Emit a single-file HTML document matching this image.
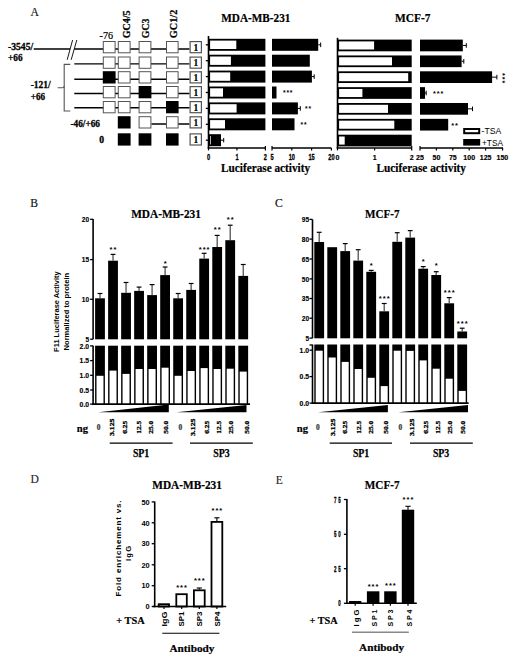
<!DOCTYPE html>
<html><head><meta charset="utf-8"><style>
html,body{margin:0;padding:0;background:#fff;}
body{width:517px;height:663px;overflow:hidden;font-family:"Liberation Serif", serif;}
svg{display:block;}
</style></head><body>
<svg width="517" height="663" viewBox="0 0 517 663">
<rect x="0" y="0" width="517" height="663" fill="#fff"/>
<text x="30.40" y="15.90" font-size="11.6" font-family="'Liberation Serif', serif" font-weight="normal" text-anchor="start" fill="#111" stroke="#111" stroke-width="0.15" >A</text>
<text x="30.20" y="206.60" font-size="11.6" font-family="'Liberation Serif', serif" font-weight="normal" text-anchor="start" fill="#111" stroke="#111" stroke-width="0.15" >B</text>
<text x="275.00" y="207.00" font-size="11.6" font-family="'Liberation Serif', serif" font-weight="normal" text-anchor="start" fill="#111" stroke="#111" stroke-width="0.15" >C</text>
<text x="30.40" y="483.20" font-size="11.6" font-family="'Liberation Serif', serif" font-weight="normal" text-anchor="start" fill="#222" stroke="#222" stroke-width="0.1" >D</text>
<text x="275.70" y="483.90" font-size="11.6" font-family="'Liberation Serif', serif" font-weight="normal" text-anchor="start" fill="#222" stroke="#222" stroke-width="0.1" >E</text>
<line x1="33.70" y1="49.00" x2="70.10" y2="49.00" stroke="#000" stroke-width="1.4" />
<line x1="74.30" y1="49.00" x2="189.50" y2="49.00" stroke="#000" stroke-width="1.4" />
<line x1="74.30" y1="63.90" x2="189.50" y2="63.90" stroke="#000" stroke-width="1.4" />
<line x1="74.30" y1="79.20" x2="189.50" y2="79.20" stroke="#000" stroke-width="1.4" />
<line x1="74.30" y1="93.50" x2="189.50" y2="93.50" stroke="#000" stroke-width="1.4" />
<line x1="74.30" y1="107.80" x2="189.50" y2="107.80" stroke="#000" stroke-width="1.4" />
<line x1="151.40" y1="124.00" x2="189.50" y2="124.00" stroke="#000" stroke-width="1.4" />
<line x1="72.60" y1="40.00" x2="67.20" y2="59.80" stroke="#000" stroke-width="0.9" />
<line x1="76.80" y1="40.00" x2="71.20" y2="59.80" stroke="#000" stroke-width="0.9" />
<path d="M70.3 64.4 L64.2 64.4 L64.2 111 L70.3 111" fill="none" stroke="#555" stroke-width="1.1"/>
<path d="M57.7 87.8 L62.5 87.8 Q64.2 87.8 64.2 86.0" fill="none" stroke="#555" stroke-width="1.1"/>
<rect x="103.30" y="41.50" width="11.80" height="11.30" fill="#fff" stroke="#555" stroke-width="1"/>
<rect x="118.30" y="41.50" width="11.80" height="11.30" fill="#fff" stroke="#555" stroke-width="1"/>
<rect x="139.10" y="41.50" width="11.80" height="11.30" fill="#fff" stroke="#555" stroke-width="1"/>
<rect x="166.50" y="41.50" width="11.60" height="11.30" fill="#fff" stroke="#555" stroke-width="1"/>
<rect x="190.10" y="41.60" width="11.30" height="11.10" fill="#fff" stroke="#555" stroke-width="1.2"/>
<text x="195.75" y="50.60" font-size="9.5" font-family="'Liberation Serif', serif" font-weight="bold" text-anchor="middle" fill="#000" stroke="#000" stroke-width="0.2" >1</text>
<rect x="103.30" y="57.00" width="11.80" height="11.30" fill="#fff" stroke="#555" stroke-width="1"/>
<rect x="118.30" y="57.00" width="11.80" height="11.30" fill="#fff" stroke="#555" stroke-width="1"/>
<rect x="139.10" y="57.00" width="11.80" height="11.30" fill="#fff" stroke="#555" stroke-width="1"/>
<rect x="166.50" y="57.00" width="11.60" height="11.30" fill="#fff" stroke="#555" stroke-width="1"/>
<rect x="190.10" y="57.10" width="11.30" height="11.10" fill="#fff" stroke="#555" stroke-width="1.2"/>
<text x="195.75" y="66.10" font-size="9.5" font-family="'Liberation Serif', serif" font-weight="bold" text-anchor="middle" fill="#000" stroke="#000" stroke-width="0.2" >1</text>
<rect x="102.80" y="71.20" width="12.80" height="12.30" fill="#000"/>
<rect x="118.30" y="71.70" width="11.80" height="11.30" fill="#fff" stroke="#555" stroke-width="1"/>
<rect x="139.10" y="71.70" width="11.80" height="11.30" fill="#fff" stroke="#555" stroke-width="1"/>
<rect x="166.50" y="71.70" width="11.60" height="11.30" fill="#fff" stroke="#555" stroke-width="1"/>
<rect x="190.10" y="71.80" width="11.30" height="11.10" fill="#fff" stroke="#555" stroke-width="1.2"/>
<text x="195.75" y="80.80" font-size="9.5" font-family="'Liberation Serif', serif" font-weight="bold" text-anchor="middle" fill="#000" stroke="#000" stroke-width="0.2" >1</text>
<rect x="103.30" y="86.50" width="11.80" height="11.30" fill="#fff" stroke="#555" stroke-width="1"/>
<rect x="118.30" y="86.50" width="11.80" height="11.30" fill="#fff" stroke="#555" stroke-width="1"/>
<rect x="138.60" y="86.00" width="12.80" height="12.30" fill="#000"/>
<rect x="166.50" y="86.50" width="11.60" height="11.30" fill="#fff" stroke="#555" stroke-width="1"/>
<rect x="190.10" y="86.60" width="11.30" height="11.10" fill="#fff" stroke="#555" stroke-width="1.2"/>
<text x="195.75" y="95.60" font-size="9.5" font-family="'Liberation Serif', serif" font-weight="bold" text-anchor="middle" fill="#000" stroke="#000" stroke-width="0.2" >1</text>
<rect x="103.30" y="101.50" width="11.80" height="11.30" fill="#fff" stroke="#555" stroke-width="1"/>
<rect x="118.30" y="101.50" width="11.80" height="11.30" fill="#fff" stroke="#555" stroke-width="1"/>
<rect x="139.10" y="101.50" width="11.80" height="11.30" fill="#fff" stroke="#555" stroke-width="1"/>
<rect x="166.00" y="101.00" width="12.60" height="12.30" fill="#000"/>
<rect x="190.10" y="101.60" width="11.30" height="11.10" fill="#fff" stroke="#555" stroke-width="1.2"/>
<text x="195.75" y="110.60" font-size="9.5" font-family="'Liberation Serif', serif" font-weight="bold" text-anchor="middle" fill="#000" stroke="#000" stroke-width="0.2" >1</text>
<rect x="117.80" y="116.20" width="12.80" height="12.30" fill="#000"/>
<rect x="139.10" y="116.70" width="11.80" height="11.30" fill="#fff" stroke="#555" stroke-width="1"/>
<rect x="166.50" y="116.70" width="11.60" height="11.30" fill="#fff" stroke="#555" stroke-width="1"/>
<rect x="190.10" y="116.80" width="11.30" height="11.10" fill="#fff" stroke="#555" stroke-width="1.2"/>
<text x="195.75" y="125.80" font-size="9.5" font-family="'Liberation Serif', serif" font-weight="bold" text-anchor="middle" fill="#000" stroke="#000" stroke-width="0.2" >1</text>
<rect x="117.80" y="133.30" width="12.80" height="12.30" fill="#000"/>
<rect x="138.60" y="133.30" width="12.80" height="12.30" fill="#000"/>
<rect x="166.00" y="133.30" width="12.60" height="12.30" fill="#000"/>
<rect x="190.10" y="133.90" width="11.30" height="11.10" fill="#fff" stroke="#555" stroke-width="1.2"/>
<text x="195.75" y="142.90" font-size="9.5" font-family="'Liberation Serif', serif" font-weight="bold" text-anchor="middle" fill="#000" stroke="#000" stroke-width="0.2" >1</text>
<text x="8.10" y="49.50" font-size="9.6" font-family="'Liberation Serif', serif" font-weight="bold" text-anchor="start" fill="#000" stroke="#000" stroke-width="0.3" textLength="25.00" lengthAdjust="spacingAndGlyphs" >-3545/</text>
<text x="8.10" y="60.50" font-size="9.6" font-family="'Liberation Serif', serif" font-weight="bold" text-anchor="start" fill="#000" stroke="#000" stroke-width="0.3" textLength="14.50" lengthAdjust="spacingAndGlyphs" >+66</text>
<text x="30.70" y="88.20" font-size="9.6" font-family="'Liberation Serif', serif" font-weight="bold" text-anchor="start" fill="#000" stroke="#000" stroke-width="0.3" textLength="20.00" lengthAdjust="spacingAndGlyphs" >-121/</text>
<text x="30.70" y="99.60" font-size="9.6" font-family="'Liberation Serif', serif" font-weight="bold" text-anchor="start" fill="#000" stroke="#000" stroke-width="0.3" textLength="14.30" lengthAdjust="spacingAndGlyphs" >+66</text>
<text x="70.40" y="126.80" font-size="9.6" font-family="'Liberation Serif', serif" font-weight="bold" text-anchor="start" fill="#000" stroke="#000" stroke-width="0.3" textLength="29.60" lengthAdjust="spacingAndGlyphs" >-46/+66</text>
<text x="99.20" y="143.10" font-size="9.6" font-family="'Liberation Serif', serif" font-weight="bold" text-anchor="start" fill="#000" stroke="#000" stroke-width="0.3" >0</text>
<text x="99.60" y="38.70" font-size="10" font-family="'Liberation Serif', serif" font-weight="normal" text-anchor="start" fill="#000" stroke="#000" stroke-width="0.2" textLength="13.40" lengthAdjust="spacingAndGlyphs" >-76</text>
<text x="130.20" y="38.20" font-size="10" font-family="'Liberation Serif', serif" font-weight="bold" text-anchor="start" fill="#000" stroke="#000" stroke-width="0.25" textLength="27.80" lengthAdjust="spacingAndGlyphs" transform="rotate(-90 130.20 38.20)" >GC4/5</text>
<text x="149.50" y="38.20" font-size="10" font-family="'Liberation Serif', serif" font-weight="bold" text-anchor="start" fill="#000" stroke="#000" stroke-width="0.25" textLength="19.70" lengthAdjust="spacingAndGlyphs" transform="rotate(-90 149.50 38.20)" >GC3</text>
<text x="176.60" y="38.20" font-size="10" font-family="'Liberation Serif', serif" font-weight="bold" text-anchor="start" fill="#000" stroke="#000" stroke-width="0.25" textLength="28.50" lengthAdjust="spacingAndGlyphs" transform="rotate(-90 176.60 38.20)" >GC1/2</text>
<line x1="208.50" y1="36.00" x2="208.50" y2="148.30" stroke="#000" stroke-width="1.6" />
<line x1="205.80" y1="44.80" x2="208.50" y2="44.80" stroke="#000" stroke-width="1.3" />
<line x1="205.80" y1="60.70" x2="208.50" y2="60.70" stroke="#000" stroke-width="1.3" />
<line x1="205.80" y1="76.60" x2="208.50" y2="76.60" stroke="#000" stroke-width="1.3" />
<line x1="205.80" y1="92.50" x2="208.50" y2="92.50" stroke="#000" stroke-width="1.3" />
<line x1="205.80" y1="108.40" x2="208.50" y2="108.40" stroke="#000" stroke-width="1.3" />
<line x1="205.80" y1="124.30" x2="208.50" y2="124.30" stroke="#000" stroke-width="1.3" />
<line x1="205.80" y1="140.20" x2="208.50" y2="140.20" stroke="#000" stroke-width="1.3" />
<rect x="208.50" y="38.80" width="56.90" height="12.00" fill="#000"/>
<rect x="210.10" y="40.60" width="26.20" height="8.40" fill="#fff"/>
<rect x="272.00" y="38.80" width="46.20" height="12.00" fill="#000"/>
<line x1="318.20" y1="44.80" x2="320.70" y2="44.80" stroke="#000" stroke-width="1" />
<line x1="320.70" y1="42.50" x2="320.70" y2="47.10" stroke="#000" stroke-width="1" />
<rect x="208.50" y="54.70" width="56.90" height="12.00" fill="#000"/>
<rect x="210.10" y="56.50" width="20.80" height="8.40" fill="#fff"/>
<rect x="272.00" y="54.70" width="37.80" height="12.00" fill="#000"/>
<rect x="208.50" y="70.60" width="56.90" height="12.00" fill="#000"/>
<rect x="210.10" y="72.40" width="20.10" height="8.40" fill="#fff"/>
<rect x="272.00" y="70.60" width="39.90" height="12.00" fill="#000"/>
<line x1="311.90" y1="76.60" x2="314.20" y2="76.60" stroke="#000" stroke-width="1" />
<line x1="314.20" y1="74.30" x2="314.20" y2="78.90" stroke="#000" stroke-width="1" />
<rect x="208.50" y="86.50" width="56.90" height="12.00" fill="#000"/>
<rect x="210.10" y="88.30" width="12.90" height="8.40" fill="#fff"/>
<rect x="272.00" y="86.50" width="4.50" height="12.00" fill="#000"/>
<rect x="208.50" y="102.40" width="56.90" height="12.00" fill="#000"/>
<rect x="210.10" y="104.20" width="26.50" height="8.40" fill="#fff"/>
<rect x="272.00" y="102.40" width="25.90" height="12.00" fill="#000"/>
<line x1="297.90" y1="108.40" x2="300.30" y2="108.40" stroke="#000" stroke-width="1" />
<line x1="300.30" y1="106.10" x2="300.30" y2="110.70" stroke="#000" stroke-width="1" />
<rect x="208.50" y="118.30" width="56.90" height="12.00" fill="#000"/>
<rect x="210.10" y="120.10" width="14.90" height="8.40" fill="#fff"/>
<rect x="272.00" y="118.30" width="22.50" height="12.00" fill="#000"/>
<rect x="208.50" y="134.20" width="12.50" height="12.00" fill="#000"/>
<line x1="221.00" y1="140.20" x2="223.70" y2="140.20" stroke="#000" stroke-width="1" />
<line x1="223.70" y1="138.00" x2="223.70" y2="142.40" stroke="#000" stroke-width="1" />
<rect x="210.10" y="136.00" width="0.70" height="8.40" fill="#fff"/>
<line x1="207.70" y1="147.90" x2="265.40" y2="147.90" stroke="#000" stroke-width="1.5" />
<line x1="272.00" y1="147.90" x2="331.40" y2="147.90" stroke="#000" stroke-width="1.5" />
<line x1="208.50" y1="147.90" x2="208.50" y2="150.40" stroke="#000" stroke-width="1.2" />
<line x1="236.95" y1="147.90" x2="236.95" y2="150.40" stroke="#000" stroke-width="1.2" />
<line x1="265.40" y1="146.10" x2="265.40" y2="150.40" stroke="#000" stroke-width="1.2" />
<line x1="272.00" y1="146.10" x2="272.00" y2="150.40" stroke="#000" stroke-width="1.2" />
<line x1="291.80" y1="147.90" x2="291.80" y2="150.40" stroke="#000" stroke-width="1.2" />
<line x1="311.60" y1="147.90" x2="311.60" y2="150.40" stroke="#000" stroke-width="1.2" />
<line x1="331.40" y1="147.90" x2="331.40" y2="150.40" stroke="#000" stroke-width="1.2" />
<text x="0" y="0" font-size="8.8" font-family="'Liberation Sans', sans-serif" font-weight="bold" text-anchor="middle" stroke="#000" stroke-width="0.3" transform="translate(208.50 160.3) scale(0.64 1)">0</text>
<text x="0" y="0" font-size="8.8" font-family="'Liberation Sans', sans-serif" font-weight="bold" text-anchor="middle" stroke="#000" stroke-width="0.3" transform="translate(236.95 160.3) scale(0.64 1)">1</text>
<text x="0" y="0" font-size="8.8" font-family="'Liberation Sans', sans-serif" font-weight="bold" text-anchor="middle" stroke="#000" stroke-width="0.3" transform="translate(265.40 160.3) scale(0.64 1)">2</text>
<text x="0" y="0" font-size="8.8" font-family="'Liberation Sans', sans-serif" font-weight="bold" text-anchor="middle" stroke="#000" stroke-width="0.3" transform="translate(272.00 160.3) scale(0.64 1)">5</text>
<text x="0" y="0" font-size="8.8" font-family="'Liberation Sans', sans-serif" font-weight="bold" text-anchor="middle" stroke="#000" stroke-width="0.3" transform="translate(291.80 160.3) scale(0.64 1)">10</text>
<text x="0" y="0" font-size="8.8" font-family="'Liberation Sans', sans-serif" font-weight="bold" text-anchor="middle" stroke="#000" stroke-width="0.3" transform="translate(311.60 160.3) scale(0.64 1)">15</text>
<text x="0" y="0" font-size="8.8" font-family="'Liberation Sans', sans-serif" font-weight="bold" text-anchor="middle" stroke="#000" stroke-width="0.3" transform="translate(331.40 160.3) scale(0.64 1)">20</text>
<text x="288.15" y="95.00" font-size="6.6" font-family="'Liberation Sans', sans-serif" font-weight="bold" text-anchor="middle" letter-spacing="0.9">***</text>
<text x="308.55" y="111.40" font-size="6.6" font-family="'Liberation Sans', sans-serif" font-weight="bold" text-anchor="middle" letter-spacing="0.9">**</text>
<text x="304.05" y="127.20" font-size="6.6" font-family="'Liberation Sans', sans-serif" font-weight="bold" text-anchor="middle" letter-spacing="0.9">**</text>
<text x="265.60" y="171.80" font-size="11.9" font-family="'Liberation Serif', serif" font-weight="bold" text-anchor="middle" fill="#000" stroke="#000" stroke-width="0.2" textLength="89.00" lengthAdjust="spacingAndGlyphs" >Luciferase activity</text>
<text x="255.80" y="22.40" font-size="11.9" font-family="'Liberation Serif', serif" font-weight="bold" text-anchor="middle" fill="#000" stroke="#000" stroke-width="0.2" textLength="69.10" lengthAdjust="spacingAndGlyphs" >MDA-MB-231</text>
<line x1="337.50" y1="37.80" x2="337.50" y2="148.30" stroke="#000" stroke-width="1.6" />
<rect x="337.50" y="39.60" width="74.20" height="11.70" fill="#000"/>
<rect x="339.10" y="41.40" width="35.00" height="8.10" fill="#fff"/>
<rect x="420.00" y="39.60" width="42.80" height="11.70" fill="#000"/>
<line x1="462.80" y1="45.45" x2="466.30" y2="45.45" stroke="#000" stroke-width="1" />
<line x1="466.30" y1="43.15" x2="466.30" y2="47.75" stroke="#000" stroke-width="1" />
<rect x="337.50" y="55.45" width="74.20" height="11.70" fill="#000"/>
<rect x="339.10" y="57.25" width="52.90" height="8.10" fill="#fff"/>
<rect x="420.00" y="55.45" width="41.60" height="11.70" fill="#000"/>
<line x1="461.60" y1="61.30" x2="463.80" y2="61.30" stroke="#000" stroke-width="1" />
<line x1="463.80" y1="59.00" x2="463.80" y2="63.60" stroke="#000" stroke-width="1" />
<rect x="337.50" y="71.30" width="74.20" height="11.70" fill="#000"/>
<rect x="339.10" y="73.10" width="69.10" height="8.10" fill="#fff"/>
<rect x="420.00" y="71.30" width="72.10" height="11.70" fill="#000"/>
<line x1="492.10" y1="77.15" x2="496.90" y2="77.15" stroke="#000" stroke-width="1" />
<line x1="496.90" y1="74.85" x2="496.90" y2="79.45" stroke="#000" stroke-width="1" />
<rect x="337.50" y="87.15" width="74.20" height="11.70" fill="#000"/>
<rect x="339.10" y="88.95" width="23.30" height="8.10" fill="#fff"/>
<rect x="420.00" y="87.15" width="5.00" height="11.70" fill="#000"/>
<line x1="425.00" y1="93.00" x2="426.20" y2="93.00" stroke="#000" stroke-width="1" />
<line x1="426.20" y1="90.70" x2="426.20" y2="95.30" stroke="#000" stroke-width="1" />
<rect x="337.50" y="103.00" width="74.20" height="11.70" fill="#000"/>
<rect x="339.10" y="104.80" width="48.90" height="8.10" fill="#fff"/>
<rect x="420.00" y="103.00" width="48.00" height="11.70" fill="#000"/>
<line x1="468.00" y1="108.85" x2="472.50" y2="108.85" stroke="#000" stroke-width="1" />
<line x1="472.50" y1="106.55" x2="472.50" y2="111.15" stroke="#000" stroke-width="1" />
<rect x="337.50" y="118.85" width="74.20" height="11.70" fill="#000"/>
<rect x="339.10" y="120.65" width="55.20" height="8.10" fill="#fff"/>
<rect x="420.00" y="118.85" width="28.20" height="11.70" fill="#000"/>
<rect x="337.50" y="134.70" width="74.20" height="11.70" fill="#000"/>
<rect x="339.10" y="136.50" width="5.60" height="8.10" fill="#fff"/>
<line x1="336.70" y1="147.90" x2="411.70" y2="147.90" stroke="#000" stroke-width="1.5" />
<line x1="420.00" y1="147.90" x2="503.00" y2="147.90" stroke="#000" stroke-width="1.5" />
<line x1="337.50" y1="147.90" x2="337.50" y2="150.40" stroke="#000" stroke-width="1.2" />
<line x1="374.60" y1="147.90" x2="374.60" y2="150.40" stroke="#000" stroke-width="1.2" />
<line x1="411.70" y1="146.10" x2="411.70" y2="150.40" stroke="#000" stroke-width="1.2" />
<line x1="420.00" y1="146.10" x2="420.00" y2="150.40" stroke="#000" stroke-width="1.2" />
<line x1="436.40" y1="147.90" x2="436.40" y2="150.40" stroke="#000" stroke-width="1.2" />
<line x1="452.80" y1="147.90" x2="452.80" y2="150.40" stroke="#000" stroke-width="1.2" />
<line x1="469.20" y1="147.90" x2="469.20" y2="150.40" stroke="#000" stroke-width="1.2" />
<line x1="485.60" y1="147.90" x2="485.60" y2="150.40" stroke="#000" stroke-width="1.2" />
<line x1="502.60" y1="147.90" x2="502.60" y2="150.40" stroke="#000" stroke-width="1.2" />
<text x="0" y="0" font-size="8.0" font-family="'Liberation Sans', sans-serif" font-weight="bold" text-anchor="middle" stroke="#000" stroke-width="0.2" transform="translate(337.50 160.1) scale(0.88 1)">0</text>
<text x="0" y="0" font-size="8.0" font-family="'Liberation Sans', sans-serif" font-weight="bold" text-anchor="middle" stroke="#000" stroke-width="0.2" transform="translate(374.60 160.1) scale(0.88 1)">1</text>
<text x="0" y="0" font-size="8.0" font-family="'Liberation Sans', sans-serif" font-weight="bold" text-anchor="middle" stroke="#000" stroke-width="0.2" transform="translate(411.70 160.1) scale(0.88 1)">2</text>
<text x="0" y="0" font-size="8.0" font-family="'Liberation Sans', sans-serif" font-weight="bold" text-anchor="middle" stroke="#000" stroke-width="0.2" transform="translate(420.00 160.1) scale(0.88 1)">25</text>
<text x="0" y="0" font-size="8.0" font-family="'Liberation Sans', sans-serif" font-weight="bold" text-anchor="middle" stroke="#000" stroke-width="0.2" transform="translate(436.40 160.1) scale(0.88 1)">50</text>
<text x="0" y="0" font-size="8.0" font-family="'Liberation Sans', sans-serif" font-weight="bold" text-anchor="middle" stroke="#000" stroke-width="0.2" transform="translate(452.80 160.1) scale(0.88 1)">75</text>
<text x="0" y="0" font-size="8.0" font-family="'Liberation Sans', sans-serif" font-weight="bold" text-anchor="middle" stroke="#000" stroke-width="0.2" transform="translate(469.20 160.1) scale(0.88 1)">100</text>
<text x="0" y="0" font-size="8.0" font-family="'Liberation Sans', sans-serif" font-weight="bold" text-anchor="middle" stroke="#000" stroke-width="0.2" transform="translate(485.60 160.1) scale(0.88 1)">125</text>
<text x="0" y="0" font-size="8.0" font-family="'Liberation Sans', sans-serif" font-weight="bold" text-anchor="middle" stroke="#000" stroke-width="0.2" transform="translate(502.40 160.1) scale(0.88 1)">150</text>
<text x="438.70" y="95.98" font-size="7.2" font-family="'Liberation Sans', sans-serif" font-weight="bold" text-anchor="middle" letter-spacing="1.0">***</text>
<text x="455.10" y="127.78" font-size="7.4" font-family="'Liberation Sans', sans-serif" font-weight="bold" text-anchor="middle" letter-spacing="1.0">**</text>
<text x="0" y="0" font-size="7.2" font-family="'Liberation Sans', sans-serif" font-weight="bold" text-anchor="middle" letter-spacing="1.0" transform="translate(500.3 78.6) rotate(90)">***</text>
<text x="421.20" y="172.20" font-size="11.9" font-family="'Liberation Serif', serif" font-weight="bold" text-anchor="middle" fill="#000" stroke="#000" stroke-width="0.2" textLength="89.60" lengthAdjust="spacingAndGlyphs" >Luciferase activity</text>
<text x="412.80" y="22.40" font-size="11.9" font-family="'Liberation Serif', serif" font-weight="bold" text-anchor="middle" fill="#000" stroke="#000" stroke-width="0.2" textLength="35.50" lengthAdjust="spacingAndGlyphs" >MCF-7</text>
<rect x="464.20" y="129.00" width="15.00" height="4.20" fill="#fff" stroke="#000" stroke-width="2"/>
<rect x="463.20" y="139.00" width="17.00" height="6.60" fill="#000"/>
<text x="481.60" y="134.30" font-size="8.6" font-family="'Liberation Sans', sans-serif" font-weight="normal" text-anchor="start" fill="#000" textLength="19.60" lengthAdjust="spacingAndGlyphs" >-TSA</text>
<text x="482.00" y="145.60" font-size="8.6" font-family="'Liberation Sans', sans-serif" font-weight="normal" text-anchor="start" fill="#000" textLength="21.00" lengthAdjust="spacingAndGlyphs" >+TSA</text>
<line x1="93.10" y1="219.00" x2="93.10" y2="339.30" stroke="#000" stroke-width="1.6" />
<line x1="93.10" y1="345.70" x2="93.10" y2="404.90" stroke="#000" stroke-width="1.6" />
<line x1="90.10" y1="219.30" x2="93.10" y2="219.30" stroke="#000" stroke-width="1.3" />
<text x="0" y="0" font-size="7.6" font-family="'Liberation Sans', sans-serif" font-weight="bold" text-anchor="end" stroke="#000" stroke-width="0.15" transform="translate(89.10 222.00) scale(0.86 1)">20</text>
<line x1="90.10" y1="259.60" x2="93.10" y2="259.60" stroke="#000" stroke-width="1.3" />
<text x="0" y="0" font-size="7.6" font-family="'Liberation Sans', sans-serif" font-weight="bold" text-anchor="end" stroke="#000" stroke-width="0.15" transform="translate(89.10 262.30) scale(0.86 1)">15</text>
<line x1="90.10" y1="299.30" x2="93.10" y2="299.30" stroke="#000" stroke-width="1.3" />
<text x="0" y="0" font-size="7.6" font-family="'Liberation Sans', sans-serif" font-weight="bold" text-anchor="end" stroke="#000" stroke-width="0.15" transform="translate(89.10 302.00) scale(0.86 1)">10</text>
<line x1="90.10" y1="339.20" x2="93.10" y2="339.20" stroke="#000" stroke-width="1.3" />
<text x="0" y="0" font-size="7.6" font-family="'Liberation Sans', sans-serif" font-weight="bold" text-anchor="end" stroke="#000" stroke-width="0.15" transform="translate(89.10 341.90) scale(0.86 1)">5</text>
<line x1="90.10" y1="345.90" x2="93.10" y2="345.90" stroke="#000" stroke-width="1.3" />
<text x="0" y="0" font-size="7.6" font-family="'Liberation Sans', sans-serif" font-weight="bold" text-anchor="end" stroke="#000" stroke-width="0.15" transform="translate(89.10 348.60) scale(0.9 1)">2.0</text>
<line x1="90.10" y1="360.60" x2="93.10" y2="360.60" stroke="#000" stroke-width="1.3" />
<text x="0" y="0" font-size="7.6" font-family="'Liberation Sans', sans-serif" font-weight="bold" text-anchor="end" stroke="#000" stroke-width="0.15" transform="translate(89.10 363.30) scale(0.9 1)">1.5</text>
<line x1="90.10" y1="375.30" x2="93.10" y2="375.30" stroke="#000" stroke-width="1.3" />
<text x="0" y="0" font-size="7.6" font-family="'Liberation Sans', sans-serif" font-weight="bold" text-anchor="end" stroke="#000" stroke-width="0.15" transform="translate(89.10 378.00) scale(0.9 1)">1.0</text>
<line x1="90.10" y1="390.00" x2="93.10" y2="390.00" stroke="#000" stroke-width="1.3" />
<text x="0" y="0" font-size="7.6" font-family="'Liberation Sans', sans-serif" font-weight="bold" text-anchor="end" stroke="#000" stroke-width="0.15" transform="translate(89.10 392.70) scale(0.9 1)">0.5</text>
<line x1="90.10" y1="404.10" x2="93.10" y2="404.10" stroke="#000" stroke-width="1.3" />
<text x="0" y="0" font-size="7.6" font-family="'Liberation Sans', sans-serif" font-weight="bold" text-anchor="end" stroke="#000" stroke-width="0.15" transform="translate(89.10 406.80) scale(0.9 1)">0.0</text>
<rect x="95.10" y="298.30" width="9.80" height="41.00" fill="#000"/>
<line x1="100.00" y1="293.50" x2="100.00" y2="298.30" stroke="#444" stroke-width="1.2" />
<line x1="97.60" y1="293.50" x2="102.40" y2="293.50" stroke="#000" stroke-width="1.2" />
<rect x="95.10" y="345.70" width="9.80" height="58.40" fill="#000"/>
<rect x="96.50" y="375.80" width="7.00" height="28.30" fill="#fff"/>
<rect x="108.12" y="260.70" width="9.80" height="78.60" fill="#000"/>
<line x1="113.02" y1="254.40" x2="113.02" y2="260.70" stroke="#444" stroke-width="1.2" />
<line x1="110.62" y1="254.40" x2="115.42" y2="254.40" stroke="#000" stroke-width="1.2" />
<rect x="108.12" y="345.70" width="9.80" height="58.40" fill="#000"/>
<rect x="109.52" y="370.60" width="7.00" height="33.50" fill="#fff"/>
<rect x="121.14" y="292.80" width="9.80" height="46.50" fill="#000"/>
<line x1="126.04" y1="282.50" x2="126.04" y2="292.80" stroke="#444" stroke-width="1.2" />
<line x1="123.64" y1="282.50" x2="128.44" y2="282.50" stroke="#000" stroke-width="1.2" />
<rect x="121.14" y="345.70" width="9.80" height="58.40" fill="#000"/>
<rect x="122.54" y="373.90" width="7.00" height="30.20" fill="#fff"/>
<rect x="134.16" y="290.90" width="9.80" height="48.40" fill="#000"/>
<line x1="139.06" y1="287.10" x2="139.06" y2="290.90" stroke="#444" stroke-width="1.2" />
<line x1="136.66" y1="287.10" x2="141.46" y2="287.10" stroke="#000" stroke-width="1.2" />
<rect x="134.16" y="345.70" width="9.80" height="58.40" fill="#000"/>
<rect x="135.56" y="369.00" width="7.00" height="35.10" fill="#fff"/>
<rect x="147.18" y="295.10" width="9.80" height="44.20" fill="#000"/>
<line x1="152.08" y1="284.60" x2="152.08" y2="295.10" stroke="#444" stroke-width="1.2" />
<line x1="149.68" y1="284.60" x2="154.48" y2="284.60" stroke="#000" stroke-width="1.2" />
<rect x="147.18" y="345.70" width="9.80" height="58.40" fill="#000"/>
<rect x="148.58" y="369.00" width="7.00" height="35.10" fill="#fff"/>
<rect x="160.20" y="275.10" width="9.80" height="64.20" fill="#000"/>
<line x1="165.10" y1="267.00" x2="165.10" y2="275.10" stroke="#444" stroke-width="1.2" />
<line x1="162.70" y1="267.00" x2="167.50" y2="267.00" stroke="#000" stroke-width="1.2" />
<rect x="160.20" y="345.70" width="9.80" height="58.40" fill="#000"/>
<rect x="161.60" y="367.70" width="7.00" height="36.40" fill="#fff"/>
<rect x="173.22" y="298.30" width="9.80" height="41.00" fill="#000"/>
<line x1="178.12" y1="293.50" x2="178.12" y2="298.30" stroke="#444" stroke-width="1.2" />
<line x1="175.72" y1="293.50" x2="180.52" y2="293.50" stroke="#000" stroke-width="1.2" />
<rect x="173.22" y="345.70" width="9.80" height="58.40" fill="#000"/>
<rect x="174.62" y="375.80" width="7.00" height="28.30" fill="#fff"/>
<rect x="186.24" y="289.90" width="9.80" height="49.40" fill="#000"/>
<line x1="191.14" y1="283.50" x2="191.14" y2="289.90" stroke="#444" stroke-width="1.2" />
<line x1="188.74" y1="283.50" x2="193.54" y2="283.50" stroke="#000" stroke-width="1.2" />
<rect x="186.24" y="345.70" width="9.80" height="58.40" fill="#000"/>
<rect x="187.64" y="371.00" width="7.00" height="33.10" fill="#fff"/>
<rect x="199.26" y="258.60" width="9.80" height="80.70" fill="#000"/>
<line x1="204.16" y1="253.30" x2="204.16" y2="258.60" stroke="#444" stroke-width="1.2" />
<line x1="201.76" y1="253.30" x2="206.56" y2="253.30" stroke="#000" stroke-width="1.2" />
<rect x="199.26" y="345.70" width="9.80" height="58.40" fill="#000"/>
<rect x="200.66" y="368.10" width="7.00" height="36.00" fill="#fff"/>
<rect x="212.28" y="247.00" width="9.80" height="92.30" fill="#000"/>
<line x1="217.18" y1="235.40" x2="217.18" y2="247.00" stroke="#444" stroke-width="1.2" />
<line x1="214.78" y1="235.40" x2="219.58" y2="235.40" stroke="#000" stroke-width="1.2" />
<rect x="212.28" y="345.70" width="9.80" height="58.40" fill="#000"/>
<rect x="213.68" y="369.00" width="7.00" height="35.10" fill="#fff"/>
<rect x="225.30" y="240.20" width="9.80" height="99.10" fill="#000"/>
<line x1="230.20" y1="225.20" x2="230.20" y2="240.20" stroke="#444" stroke-width="1.2" />
<line x1="227.80" y1="225.20" x2="232.60" y2="225.20" stroke="#000" stroke-width="1.2" />
<rect x="225.30" y="345.70" width="9.80" height="58.40" fill="#000"/>
<rect x="226.70" y="368.70" width="7.00" height="35.40" fill="#fff"/>
<rect x="238.32" y="275.90" width="9.80" height="63.40" fill="#000"/>
<line x1="243.22" y1="264.50" x2="243.22" y2="275.90" stroke="#444" stroke-width="1.2" />
<line x1="240.82" y1="264.50" x2="245.62" y2="264.50" stroke="#000" stroke-width="1.2" />
<rect x="238.32" y="345.70" width="9.80" height="58.40" fill="#000"/>
<rect x="239.72" y="371.60" width="7.00" height="32.50" fill="#fff"/>
<text x="113.52" y="252.03" font-size="7.5" font-family="'Liberation Sans', sans-serif" font-weight="bold" text-anchor="middle" letter-spacing="1.0">**</text>
<text x="165.60" y="266.32" font-size="7.5" font-family="'Liberation Sans', sans-serif" font-weight="bold" text-anchor="middle" letter-spacing="1.0">*</text>
<text x="204.66" y="251.53" font-size="7.5" font-family="'Liberation Sans', sans-serif" font-weight="bold" text-anchor="middle" letter-spacing="1.0">***</text>
<text x="217.68" y="232.12" font-size="7.5" font-family="'Liberation Sans', sans-serif" font-weight="bold" text-anchor="middle" letter-spacing="1.0">**</text>
<text x="230.70" y="222.43" font-size="7.5" font-family="'Liberation Sans', sans-serif" font-weight="bold" text-anchor="middle" letter-spacing="1.0">**</text>
<line x1="92.30" y1="404.10" x2="250.00" y2="404.10" stroke="#000" stroke-width="1.6" />
<polygon points="98.20,412.30 168.80,404.60 168.80,412.30" fill="#000"/>
<polygon points="176.40,412.30 246.50,405.00 246.50,412.30" fill="#000"/>
<line x1="109.70" y1="443.10" x2="172.60" y2="443.10" stroke="#000" stroke-width="1.3" />
<line x1="190.00" y1="443.10" x2="252.80" y2="443.10" stroke="#000" stroke-width="1.3" />
<text x="141.10" y="457.00" font-size="11.8" font-family="'Liberation Serif', serif" font-weight="bold" text-anchor="middle" fill="#000" stroke="#000" stroke-width="0.25" textLength="16.40" lengthAdjust="spacingAndGlyphs" >SP1</text>
<text x="221.40" y="457.00" font-size="11.8" font-family="'Liberation Serif', serif" font-weight="bold" text-anchor="middle" fill="#000" stroke="#000" stroke-width="0.25" textLength="16.40" lengthAdjust="spacingAndGlyphs" >SP3</text>
<text x="76.80" y="431.90" font-size="11.0" font-family="'Liberation Serif', serif" font-weight="bold" text-anchor="start" fill="#000" stroke="#000" stroke-width="0.2" textLength="11.20" lengthAdjust="spacingAndGlyphs" >ng</text>
<text x="98.50" y="429.60" font-size="7.4" font-family="'Liberation Serif', serif" font-weight="bold" text-anchor="middle" fill="#333" stroke="#333" stroke-width="0.2" >0</text>
<text x="180.30" y="429.60" font-size="7.4" font-family="'Liberation Serif', serif" font-weight="bold" text-anchor="middle" fill="#333" stroke="#333" stroke-width="0.2" >0</text>
<text x="113.70" y="427.30" font-size="6.9" font-family="'Liberation Serif', serif" font-weight="bold" text-anchor="middle" fill="#000" stroke="#000" stroke-width="0.3" textLength="17.60" lengthAdjust="spacingAndGlyphs" transform="rotate(-90 113.70 427.30)" >3.125</text>
<text x="127.50" y="427.30" font-size="6.9" font-family="'Liberation Serif', serif" font-weight="bold" text-anchor="middle" fill="#000" stroke="#000" stroke-width="0.3" textLength="13.10" lengthAdjust="spacingAndGlyphs" transform="rotate(-90 127.50 427.30)" >6.25</text>
<text x="141.00" y="427.30" font-size="6.9" font-family="'Liberation Serif', serif" font-weight="bold" text-anchor="middle" fill="#000" stroke="#000" stroke-width="0.3" textLength="13.10" lengthAdjust="spacingAndGlyphs" transform="rotate(-90 141.00 427.30)" >12.5</text>
<text x="153.50" y="427.30" font-size="6.9" font-family="'Liberation Serif', serif" font-weight="bold" text-anchor="middle" fill="#000" stroke="#000" stroke-width="0.3" textLength="13.10" lengthAdjust="spacingAndGlyphs" transform="rotate(-90 153.50 427.30)" >25.0</text>
<text x="168.00" y="427.30" font-size="6.9" font-family="'Liberation Serif', serif" font-weight="bold" text-anchor="middle" fill="#000" stroke="#000" stroke-width="0.3" textLength="13.10" lengthAdjust="spacingAndGlyphs" transform="rotate(-90 168.00 427.30)" >50.0</text>
<text x="195.20" y="427.30" font-size="6.9" font-family="'Liberation Serif', serif" font-weight="bold" text-anchor="middle" fill="#000" stroke="#000" stroke-width="0.3" textLength="17.60" lengthAdjust="spacingAndGlyphs" transform="rotate(-90 195.20 427.30)" >3.125</text>
<text x="208.70" y="427.30" font-size="6.9" font-family="'Liberation Serif', serif" font-weight="bold" text-anchor="middle" fill="#000" stroke="#000" stroke-width="0.3" textLength="13.10" lengthAdjust="spacingAndGlyphs" transform="rotate(-90 208.70 427.30)" >6.25</text>
<text x="221.30" y="427.30" font-size="6.9" font-family="'Liberation Serif', serif" font-weight="bold" text-anchor="middle" fill="#000" stroke="#000" stroke-width="0.3" textLength="13.10" lengthAdjust="spacingAndGlyphs" transform="rotate(-90 221.30 427.30)" >12.5</text>
<text x="233.50" y="427.30" font-size="6.9" font-family="'Liberation Serif', serif" font-weight="bold" text-anchor="middle" fill="#000" stroke="#000" stroke-width="0.3" textLength="13.10" lengthAdjust="spacingAndGlyphs" transform="rotate(-90 233.50 427.30)" >25.0</text>
<text x="249.30" y="427.30" font-size="6.9" font-family="'Liberation Serif', serif" font-weight="bold" text-anchor="middle" fill="#000" stroke="#000" stroke-width="0.3" textLength="13.10" lengthAdjust="spacingAndGlyphs" transform="rotate(-90 249.30 427.30)" >50.0</text>
<text x="166.00" y="218.00" font-size="11.7" font-family="'Liberation Serif', serif" font-weight="bold" text-anchor="middle" fill="#000" stroke="#000" stroke-width="0.2" textLength="69.70" lengthAdjust="spacingAndGlyphs" >MDA-MB-231</text>
<text x="59.40" y="311.60" font-size="8.0" font-family="'Liberation Sans', sans-serif" font-weight="bold" text-anchor="middle" fill="#000" textLength="80.60" lengthAdjust="spacingAndGlyphs" transform="rotate(-90 59.40 311.60)" >F11 Luciferase Activity</text>
<text x="68.90" y="311.60" font-size="8.0" font-family="'Liberation Sans', sans-serif" font-weight="bold" text-anchor="middle" fill="#000" textLength="77.60" lengthAdjust="spacingAndGlyphs" transform="rotate(-90 68.90 311.60)" >Normalized to protein</text>
<line x1="312.50" y1="219.40" x2="312.50" y2="338.30" stroke="#000" stroke-width="1.6" />
<line x1="312.50" y1="344.50" x2="312.50" y2="403.90" stroke="#000" stroke-width="1.6" />
<line x1="309.50" y1="219.40" x2="312.50" y2="219.40" stroke="#000" stroke-width="1.3" />
<text x="0" y="0" font-size="7.6" font-family="'Liberation Sans', sans-serif" font-weight="bold" text-anchor="end" stroke="#000" stroke-width="0.15" transform="translate(309.10 222.10) scale(0.86 1)">95</text>
<line x1="309.50" y1="239.10" x2="312.50" y2="239.10" stroke="#000" stroke-width="1.3" />
<text x="0" y="0" font-size="7.6" font-family="'Liberation Sans', sans-serif" font-weight="bold" text-anchor="end" stroke="#000" stroke-width="0.15" transform="translate(309.10 241.80) scale(0.86 1)">80</text>
<line x1="309.50" y1="259.00" x2="312.50" y2="259.00" stroke="#000" stroke-width="1.3" />
<text x="0" y="0" font-size="7.6" font-family="'Liberation Sans', sans-serif" font-weight="bold" text-anchor="end" stroke="#000" stroke-width="0.15" transform="translate(309.10 261.70) scale(0.86 1)">65</text>
<line x1="309.50" y1="278.90" x2="312.50" y2="278.90" stroke="#000" stroke-width="1.3" />
<text x="0" y="0" font-size="7.6" font-family="'Liberation Sans', sans-serif" font-weight="bold" text-anchor="end" stroke="#000" stroke-width="0.15" transform="translate(309.10 281.60) scale(0.86 1)">50</text>
<line x1="309.50" y1="298.50" x2="312.50" y2="298.50" stroke="#000" stroke-width="1.3" />
<text x="0" y="0" font-size="7.6" font-family="'Liberation Sans', sans-serif" font-weight="bold" text-anchor="end" stroke="#000" stroke-width="0.15" transform="translate(309.10 301.20) scale(0.86 1)">35</text>
<line x1="309.50" y1="318.20" x2="312.50" y2="318.20" stroke="#000" stroke-width="1.3" />
<text x="0" y="0" font-size="7.6" font-family="'Liberation Sans', sans-serif" font-weight="bold" text-anchor="end" stroke="#000" stroke-width="0.15" transform="translate(309.10 320.90) scale(0.86 1)">20</text>
<line x1="309.50" y1="338.10" x2="312.50" y2="338.10" stroke="#000" stroke-width="1.3" />
<text x="0" y="0" font-size="7.6" font-family="'Liberation Sans', sans-serif" font-weight="bold" text-anchor="end" stroke="#000" stroke-width="0.15" transform="translate(309.10 340.80) scale(0.86 1)">5</text>
<line x1="309.50" y1="345.00" x2="312.50" y2="345.00" stroke="#000" stroke-width="1.3" />
<line x1="309.50" y1="350.20" x2="312.50" y2="350.20" stroke="#000" stroke-width="1.3" />
<text x="0" y="0" font-size="7.6" font-family="'Liberation Sans', sans-serif" font-weight="bold" text-anchor="end" stroke="#000" stroke-width="0.15" transform="translate(309.10 352.90) scale(0.9 1)">1.0</text>
<line x1="309.50" y1="376.60" x2="312.50" y2="376.60" stroke="#000" stroke-width="1.3" />
<text x="0" y="0" font-size="7.6" font-family="'Liberation Sans', sans-serif" font-weight="bold" text-anchor="end" stroke="#000" stroke-width="0.15" transform="translate(309.10 379.30) scale(0.9 1)">0.5</text>
<line x1="309.50" y1="403.10" x2="312.50" y2="403.10" stroke="#000" stroke-width="1.3" />
<text x="0" y="0" font-size="7.6" font-family="'Liberation Sans', sans-serif" font-weight="bold" text-anchor="end" stroke="#000" stroke-width="0.15" transform="translate(309.10 405.80) scale(0.9 1)">0.0</text>
<rect x="314.30" y="242.00" width="9.80" height="96.30" fill="#000"/>
<line x1="319.20" y1="232.30" x2="319.20" y2="242.00" stroke="#444" stroke-width="1.2" />
<line x1="316.80" y1="232.30" x2="321.60" y2="232.30" stroke="#000" stroke-width="1.2" />
<rect x="314.30" y="344.50" width="9.80" height="58.60" fill="#000"/>
<rect x="315.70" y="350.70" width="7.00" height="52.40" fill="#fff"/>
<rect x="327.30" y="247.20" width="9.80" height="91.10" fill="#000"/>
<rect x="327.30" y="344.50" width="9.80" height="58.60" fill="#000"/>
<rect x="328.70" y="357.50" width="7.00" height="45.60" fill="#fff"/>
<rect x="340.30" y="251.10" width="9.80" height="87.20" fill="#000"/>
<line x1="345.20" y1="243.60" x2="345.20" y2="251.10" stroke="#444" stroke-width="1.2" />
<line x1="342.80" y1="243.60" x2="347.60" y2="243.60" stroke="#000" stroke-width="1.2" />
<rect x="340.30" y="344.50" width="9.80" height="58.60" fill="#000"/>
<rect x="341.70" y="361.90" width="7.00" height="41.20" fill="#fff"/>
<rect x="353.30" y="260.60" width="9.80" height="77.70" fill="#000"/>
<line x1="358.20" y1="249.70" x2="358.20" y2="260.60" stroke="#444" stroke-width="1.2" />
<line x1="355.80" y1="249.70" x2="360.60" y2="249.70" stroke="#000" stroke-width="1.2" />
<rect x="353.30" y="344.50" width="9.80" height="58.60" fill="#000"/>
<rect x="354.70" y="369.00" width="7.00" height="34.10" fill="#fff"/>
<rect x="366.30" y="271.80" width="9.80" height="66.50" fill="#000"/>
<line x1="371.20" y1="270.40" x2="371.20" y2="271.80" stroke="#444" stroke-width="1.2" />
<line x1="368.80" y1="270.40" x2="373.60" y2="270.40" stroke="#000" stroke-width="1.2" />
<rect x="366.30" y="344.50" width="9.80" height="58.60" fill="#000"/>
<rect x="367.70" y="377.80" width="7.00" height="25.30" fill="#fff"/>
<rect x="379.30" y="311.30" width="9.80" height="27.00" fill="#000"/>
<line x1="384.20" y1="303.50" x2="384.20" y2="311.30" stroke="#444" stroke-width="1.2" />
<line x1="381.80" y1="303.50" x2="386.60" y2="303.50" stroke="#000" stroke-width="1.2" />
<rect x="379.30" y="344.50" width="9.80" height="58.60" fill="#000"/>
<rect x="380.70" y="386.10" width="7.00" height="17.00" fill="#fff"/>
<rect x="392.30" y="241.80" width="9.80" height="96.50" fill="#000"/>
<line x1="397.20" y1="232.70" x2="397.20" y2="241.80" stroke="#444" stroke-width="1.2" />
<line x1="394.80" y1="232.70" x2="399.60" y2="232.70" stroke="#000" stroke-width="1.2" />
<rect x="392.30" y="344.50" width="9.80" height="58.60" fill="#000"/>
<rect x="393.70" y="350.70" width="7.00" height="52.40" fill="#fff"/>
<rect x="405.30" y="237.60" width="9.80" height="100.70" fill="#000"/>
<line x1="410.20" y1="230.60" x2="410.20" y2="237.60" stroke="#444" stroke-width="1.2" />
<line x1="407.80" y1="230.60" x2="412.60" y2="230.60" stroke="#000" stroke-width="1.2" />
<rect x="405.30" y="344.50" width="9.80" height="58.60" fill="#000"/>
<rect x="406.70" y="350.90" width="7.00" height="52.20" fill="#fff"/>
<rect x="418.30" y="268.70" width="9.80" height="69.60" fill="#000"/>
<line x1="423.20" y1="266.60" x2="423.20" y2="268.70" stroke="#444" stroke-width="1.2" />
<line x1="420.80" y1="266.60" x2="425.60" y2="266.60" stroke="#000" stroke-width="1.2" />
<rect x="418.30" y="344.50" width="9.80" height="58.60" fill="#000"/>
<rect x="419.70" y="360.40" width="7.00" height="42.70" fill="#fff"/>
<rect x="431.30" y="275.00" width="9.80" height="63.30" fill="#000"/>
<line x1="436.20" y1="271.70" x2="436.20" y2="275.00" stroke="#444" stroke-width="1.2" />
<line x1="433.80" y1="271.70" x2="438.60" y2="271.70" stroke="#000" stroke-width="1.2" />
<rect x="431.30" y="344.50" width="9.80" height="58.60" fill="#000"/>
<rect x="432.70" y="368.70" width="7.00" height="34.40" fill="#fff"/>
<rect x="444.30" y="303.30" width="9.80" height="35.00" fill="#000"/>
<line x1="449.20" y1="297.60" x2="449.20" y2="303.30" stroke="#444" stroke-width="1.2" />
<line x1="446.80" y1="297.60" x2="451.60" y2="297.60" stroke="#000" stroke-width="1.2" />
<rect x="444.30" y="344.50" width="9.80" height="58.60" fill="#000"/>
<rect x="445.70" y="378.70" width="7.00" height="24.40" fill="#fff"/>
<rect x="457.30" y="331.50" width="9.80" height="6.80" fill="#000"/>
<line x1="462.20" y1="328.20" x2="462.20" y2="331.50" stroke="#444" stroke-width="1.2" />
<line x1="459.80" y1="328.20" x2="464.60" y2="328.20" stroke="#000" stroke-width="1.2" />
<rect x="457.30" y="344.50" width="9.80" height="58.60" fill="#000"/>
<rect x="458.70" y="390.90" width="7.00" height="12.20" fill="#fff"/>
<text x="371.70" y="267.92" font-size="7.5" font-family="'Liberation Sans', sans-serif" font-weight="bold" text-anchor="middle" letter-spacing="1.0">*</text>
<text x="384.70" y="301.12" font-size="7.5" font-family="'Liberation Sans', sans-serif" font-weight="bold" text-anchor="middle" letter-spacing="1.0">***</text>
<text x="423.70" y="263.72" font-size="7.5" font-family="'Liberation Sans', sans-serif" font-weight="bold" text-anchor="middle" letter-spacing="1.0">*</text>
<text x="436.70" y="268.12" font-size="7.5" font-family="'Liberation Sans', sans-serif" font-weight="bold" text-anchor="middle" letter-spacing="1.0">*</text>
<text x="449.70" y="295.12" font-size="7.5" font-family="'Liberation Sans', sans-serif" font-weight="bold" text-anchor="middle" letter-spacing="1.0">***</text>
<text x="462.70" y="326.12" font-size="7.5" font-family="'Liberation Sans', sans-serif" font-weight="bold" text-anchor="middle" letter-spacing="1.0">***</text>
<line x1="311.70" y1="403.10" x2="468.60" y2="403.10" stroke="#000" stroke-width="1.6" />
<polygon points="318.00,412.30 387.90,405.00 387.90,412.30" fill="#000"/>
<polygon points="398.40,412.30 468.00,405.00 468.00,412.30" fill="#000"/>
<line x1="329.70" y1="443.10" x2="392.00" y2="443.10" stroke="#000" stroke-width="1.3" />
<line x1="410.00" y1="443.10" x2="472.80" y2="443.10" stroke="#000" stroke-width="1.3" />
<text x="361.10" y="457.00" font-size="11.8" font-family="'Liberation Serif', serif" font-weight="bold" text-anchor="middle" fill="#000" stroke="#000" stroke-width="0.25" textLength="16.40" lengthAdjust="spacingAndGlyphs" >SP1</text>
<text x="441.10" y="457.00" font-size="11.8" font-family="'Liberation Serif', serif" font-weight="bold" text-anchor="middle" fill="#000" stroke="#000" stroke-width="0.25" textLength="16.40" lengthAdjust="spacingAndGlyphs" >SP3</text>
<text x="296.80" y="431.90" font-size="11.0" font-family="'Liberation Serif', serif" font-weight="bold" text-anchor="start" fill="#000" stroke="#000" stroke-width="0.2" textLength="11.20" lengthAdjust="spacingAndGlyphs" >ng</text>
<text x="317.90" y="429.60" font-size="7.4" font-family="'Liberation Serif', serif" font-weight="bold" text-anchor="middle" fill="#333" stroke="#333" stroke-width="0.2" >0</text>
<text x="400.30" y="429.60" font-size="7.4" font-family="'Liberation Serif', serif" font-weight="bold" text-anchor="middle" fill="#333" stroke="#333" stroke-width="0.2" >0</text>
<text x="334.90" y="427.30" font-size="6.9" font-family="'Liberation Serif', serif" font-weight="bold" text-anchor="middle" fill="#000" stroke="#000" stroke-width="0.3" textLength="17.60" lengthAdjust="spacingAndGlyphs" transform="rotate(-90 334.90 427.30)" >3.125</text>
<text x="347.40" y="427.30" font-size="6.9" font-family="'Liberation Serif', serif" font-weight="bold" text-anchor="middle" fill="#000" stroke="#000" stroke-width="0.3" textLength="13.10" lengthAdjust="spacingAndGlyphs" transform="rotate(-90 347.40 427.30)" >6.25</text>
<text x="361.00" y="427.30" font-size="6.9" font-family="'Liberation Serif', serif" font-weight="bold" text-anchor="middle" fill="#000" stroke="#000" stroke-width="0.3" textLength="13.10" lengthAdjust="spacingAndGlyphs" transform="rotate(-90 361.00 427.30)" >12.5</text>
<text x="373.50" y="427.30" font-size="6.9" font-family="'Liberation Serif', serif" font-weight="bold" text-anchor="middle" fill="#000" stroke="#000" stroke-width="0.3" textLength="13.10" lengthAdjust="spacingAndGlyphs" transform="rotate(-90 373.50 427.30)" >25.0</text>
<text x="388.00" y="427.30" font-size="6.9" font-family="'Liberation Serif', serif" font-weight="bold" text-anchor="middle" fill="#000" stroke="#000" stroke-width="0.3" textLength="13.10" lengthAdjust="spacingAndGlyphs" transform="rotate(-90 388.00 427.30)" >50.0</text>
<text x="414.20" y="427.30" font-size="6.9" font-family="'Liberation Serif', serif" font-weight="bold" text-anchor="middle" fill="#000" stroke="#000" stroke-width="0.3" textLength="17.60" lengthAdjust="spacingAndGlyphs" transform="rotate(-90 414.20 427.30)" >3.125</text>
<text x="427.80" y="427.30" font-size="6.9" font-family="'Liberation Serif', serif" font-weight="bold" text-anchor="middle" fill="#000" stroke="#000" stroke-width="0.3" textLength="13.10" lengthAdjust="spacingAndGlyphs" transform="rotate(-90 427.80 427.30)" >6.25</text>
<text x="440.30" y="427.30" font-size="6.9" font-family="'Liberation Serif', serif" font-weight="bold" text-anchor="middle" fill="#000" stroke="#000" stroke-width="0.3" textLength="13.10" lengthAdjust="spacingAndGlyphs" transform="rotate(-90 440.30 427.30)" >12.5</text>
<text x="452.30" y="427.30" font-size="6.9" font-family="'Liberation Serif', serif" font-weight="bold" text-anchor="middle" fill="#000" stroke="#000" stroke-width="0.3" textLength="13.10" lengthAdjust="spacingAndGlyphs" transform="rotate(-90 452.30 427.30)" >25.0</text>
<text x="465.10" y="427.30" font-size="6.9" font-family="'Liberation Serif', serif" font-weight="bold" text-anchor="middle" fill="#000" stroke="#000" stroke-width="0.3" textLength="13.10" lengthAdjust="spacingAndGlyphs" transform="rotate(-90 465.10 427.30)" >50.0</text>
<text x="382.20" y="218.00" font-size="11.7" font-family="'Liberation Serif', serif" font-weight="bold" text-anchor="middle" fill="#000" stroke="#000" stroke-width="0.2" textLength="34.50" lengthAdjust="spacingAndGlyphs" >MCF-7</text>
<line x1="154.70" y1="501.50" x2="154.70" y2="607.20" stroke="#000" stroke-width="1.6" />
<line x1="151.70" y1="501.90" x2="154.70" y2="501.90" stroke="#000" stroke-width="1.3" />
<text x="149.70" y="504.60" font-size="7.4" font-family="'Liberation Sans', sans-serif" font-weight="bold" text-anchor="end" fill="#000" >50</text>
<line x1="151.70" y1="522.80" x2="154.70" y2="522.80" stroke="#000" stroke-width="1.3" />
<text x="149.70" y="525.50" font-size="7.4" font-family="'Liberation Sans', sans-serif" font-weight="bold" text-anchor="end" fill="#000" >40</text>
<line x1="151.70" y1="543.70" x2="154.70" y2="543.70" stroke="#000" stroke-width="1.3" />
<text x="149.70" y="546.40" font-size="7.4" font-family="'Liberation Sans', sans-serif" font-weight="bold" text-anchor="end" fill="#000" >30</text>
<line x1="151.70" y1="564.80" x2="154.70" y2="564.80" stroke="#000" stroke-width="1.3" />
<text x="149.70" y="567.50" font-size="7.4" font-family="'Liberation Sans', sans-serif" font-weight="bold" text-anchor="end" fill="#000" >20</text>
<line x1="151.70" y1="585.70" x2="154.70" y2="585.70" stroke="#000" stroke-width="1.3" />
<text x="149.70" y="588.40" font-size="7.4" font-family="'Liberation Sans', sans-serif" font-weight="bold" text-anchor="end" fill="#000" >10</text>
<line x1="151.70" y1="606.50" x2="154.70" y2="606.50" stroke="#000" stroke-width="1.3" />
<text x="149.70" y="609.20" font-size="7.4" font-family="'Liberation Sans', sans-serif" font-weight="bold" text-anchor="end" fill="#000" >0</text>
<rect x="158.70" y="604.20" width="10.30" height="2.30" fill="#fff" stroke="#000" stroke-width="1.8"/>
<rect x="176.30" y="594.20" width="10.50" height="12.30" fill="#fff" stroke="#000" stroke-width="1.8"/>
<rect x="193.90" y="590.30" width="10.80" height="16.20" fill="#fff" stroke="#000" stroke-width="1.8"/>
<line x1="199.30" y1="588.00" x2="199.30" y2="589.40" stroke="#000" stroke-width="1.1" />
<line x1="196.70" y1="588.00" x2="201.90" y2="588.00" stroke="#000" stroke-width="1.1" />
<rect x="211.50" y="521.90" width="10.80" height="84.60" fill="#fff" stroke="#000" stroke-width="1.8"/>
<line x1="216.90" y1="517.80" x2="216.90" y2="521.00" stroke="#000" stroke-width="1.1" />
<line x1="214.30" y1="517.80" x2="219.50" y2="517.80" stroke="#000" stroke-width="1.1" />
<line x1="152.70" y1="606.50" x2="226.20" y2="606.50" stroke="#000" stroke-width="1.6" />
<line x1="164.00" y1="606.50" x2="164.00" y2="609.00" stroke="#000" stroke-width="1.2" />
<line x1="181.70" y1="606.50" x2="181.70" y2="609.00" stroke="#000" stroke-width="1.2" />
<line x1="199.30" y1="606.50" x2="199.30" y2="609.00" stroke="#000" stroke-width="1.2" />
<line x1="216.90" y1="606.50" x2="216.90" y2="609.00" stroke="#000" stroke-width="1.2" />
<text x="182.10" y="589.73" font-size="7.5" font-family="'Liberation Sans', sans-serif" font-weight="bold" text-anchor="middle" letter-spacing="1.0">***</text>
<text x="199.80" y="582.92" font-size="7.5" font-family="'Liberation Sans', sans-serif" font-weight="bold" text-anchor="middle" letter-spacing="1.0">***</text>
<text x="217.40" y="513.02" font-size="7.5" font-family="'Liberation Sans', sans-serif" font-weight="bold" text-anchor="middle" letter-spacing="1.0">***</text>
<text x="166.70" y="626.50" font-size="7.6" font-family="'Liberation Sans', sans-serif" font-weight="bold" text-anchor="start" fill="#000" textLength="15.00" lengthAdjust="spacingAndGlyphs" transform="rotate(-90 166.70 626.50)" >IgG</text>
<text x="184.40" y="626.50" font-size="7.6" font-family="'Liberation Sans', sans-serif" font-weight="bold" text-anchor="start" fill="#000" textLength="15.00" lengthAdjust="spacingAndGlyphs" transform="rotate(-90 184.40 626.50)" >SP1</text>
<text x="202.00" y="626.50" font-size="7.6" font-family="'Liberation Sans', sans-serif" font-weight="bold" text-anchor="start" fill="#000" textLength="15.00" lengthAdjust="spacingAndGlyphs" transform="rotate(-90 202.00 626.50)" >SP3</text>
<text x="220.00" y="626.50" font-size="7.6" font-family="'Liberation Sans', sans-serif" font-weight="bold" text-anchor="start" fill="#000" textLength="15.00" lengthAdjust="spacingAndGlyphs" transform="rotate(-90 220.00 626.50)" >SP4</text>
<line x1="162.30" y1="633.20" x2="219.40" y2="633.20" stroke="#000" stroke-width="1.1" />
<text x="192.00" y="651.80" font-size="11.2" font-family="'Liberation Serif', serif" font-weight="bold" text-anchor="middle" fill="#000" stroke="#000" stroke-width="0.2" textLength="45.00" lengthAdjust="spacingAndGlyphs" >Antibody</text>
<text x="116.30" y="624.00" font-size="11.4" font-family="'Liberation Serif', serif" font-weight="bold" text-anchor="start" fill="#000" stroke="#000" stroke-width="0.2" textLength="28.40" lengthAdjust="spacingAndGlyphs" >+ TSA</text>
<text x="187.10" y="488.90" font-size="11.6" font-family="'Liberation Serif', serif" font-weight="bold" text-anchor="middle" fill="#000" stroke="#000" stroke-width="0.2" textLength="69.60" lengthAdjust="spacingAndGlyphs" >MDA-MB-231</text>
<text x="120.9" y="548.4" font-size="8.0" font-family="'Liberation Sans', sans-serif" font-weight="bold" text-anchor="middle" textLength="96.0" lengthAdjust="spacing" transform="rotate(-90 120.9 548.4)">Fold enrichement vs.</text>
<text x="131.2" y="553.4" font-size="7.6" font-family="'Liberation Sans', sans-serif" font-weight="bold" text-anchor="middle" textLength="15.0" lengthAdjust="spacing" transform="rotate(-90 131.2 553.4)">IgG</text>
<line x1="346.90" y1="499.00" x2="346.90" y2="604.00" stroke="#000" stroke-width="1.6" />
<line x1="343.90" y1="499.50" x2="346.90" y2="499.50" stroke="#000" stroke-width="1.3" />
<text x="0" y="0" font-size="8.8" font-family="'Liberation Sans', sans-serif" font-weight="bold" text-anchor="end" letter-spacing="3.8" stroke="#000" stroke-width="0.35" transform="translate(342.70 502.60) scale(0.5 1)">75</text>
<line x1="343.90" y1="534.30" x2="346.90" y2="534.30" stroke="#000" stroke-width="1.3" />
<text x="0" y="0" font-size="8.8" font-family="'Liberation Sans', sans-serif" font-weight="bold" text-anchor="end" letter-spacing="3.8" stroke="#000" stroke-width="0.35" transform="translate(342.70 537.40) scale(0.5 1)">50</text>
<line x1="343.90" y1="568.70" x2="346.90" y2="568.70" stroke="#000" stroke-width="1.3" />
<text x="0" y="0" font-size="8.8" font-family="'Liberation Sans', sans-serif" font-weight="bold" text-anchor="end" letter-spacing="3.8" stroke="#000" stroke-width="0.35" transform="translate(342.70 571.80) scale(0.5 1)">25</text>
<line x1="343.90" y1="603.30" x2="346.90" y2="603.30" stroke="#000" stroke-width="1.3" />
<text x="0" y="0" font-size="8.8" font-family="'Liberation Sans', sans-serif" font-weight="bold" text-anchor="end" letter-spacing="3.8" stroke="#000" stroke-width="0.35" transform="translate(342.70 606.40) scale(0.5 1)">0</text>
<rect x="349.00" y="601.00" width="12.30" height="2.30" fill="#000"/>
<rect x="366.90" y="591.30" width="12.50" height="12.00" fill="#000"/>
<rect x="384.20" y="591.30" width="12.40" height="12.00" fill="#000"/>
<rect x="401.80" y="509.70" width="12.40" height="93.60" fill="#000"/>
<line x1="408.00" y1="506.30" x2="408.00" y2="509.70" stroke="#000" stroke-width="1.1" />
<line x1="405.40" y1="506.30" x2="410.60" y2="506.30" stroke="#000" stroke-width="1.1" />
<line x1="346.00" y1="603.30" x2="416.80" y2="603.30" stroke="#000" stroke-width="1.6" />
<line x1="355.20" y1="603.30" x2="355.20" y2="605.80" stroke="#000" stroke-width="1.2" />
<line x1="373.10" y1="603.30" x2="373.10" y2="605.80" stroke="#000" stroke-width="1.2" />
<line x1="390.40" y1="603.30" x2="390.40" y2="605.80" stroke="#000" stroke-width="1.2" />
<line x1="408.00" y1="603.30" x2="408.00" y2="605.80" stroke="#000" stroke-width="1.2" />
<text x="373.60" y="588.52" font-size="7.5" font-family="'Liberation Sans', sans-serif" font-weight="bold" text-anchor="middle" letter-spacing="1.0">***</text>
<text x="390.90" y="587.73" font-size="7.5" font-family="'Liberation Sans', sans-serif" font-weight="bold" text-anchor="middle" letter-spacing="1.0">***</text>
<text x="408.50" y="502.02" font-size="7.5" font-family="'Liberation Sans', sans-serif" font-weight="bold" text-anchor="middle" letter-spacing="1.0">***</text>
<text x="358.70" y="626.50" font-size="7.2" font-family="'Liberation Sans', sans-serif" font-weight="bold" text-anchor="start" fill="#000" textLength="17.00" lengthAdjust="spacingAndGlyphs" transform="rotate(-90 358.70 626.50)" >I g G</text>
<text x="376.70" y="626.50" font-size="7.2" font-family="'Liberation Sans', sans-serif" font-weight="bold" text-anchor="start" fill="#000" textLength="17.00" lengthAdjust="spacingAndGlyphs" transform="rotate(-90 376.70 626.50)" >S P 1</text>
<text x="393.40" y="626.50" font-size="7.2" font-family="'Liberation Sans', sans-serif" font-weight="bold" text-anchor="start" fill="#000" textLength="17.00" lengthAdjust="spacingAndGlyphs" transform="rotate(-90 393.40 626.50)" >S P 3</text>
<text x="411.50" y="626.50" font-size="7.2" font-family="'Liberation Sans', sans-serif" font-weight="bold" text-anchor="start" fill="#000" textLength="17.00" lengthAdjust="spacingAndGlyphs" transform="rotate(-90 411.50 626.50)" >S P 4</text>
<line x1="352.00" y1="632.30" x2="408.80" y2="632.30" stroke="#888" stroke-width="1.4" />
<text x="381.60" y="650.60" font-size="11.2" font-family="'Liberation Serif', serif" font-weight="bold" text-anchor="middle" fill="#000" stroke="#000" stroke-width="0.2" textLength="45.00" lengthAdjust="spacingAndGlyphs" >Antibody</text>
<text x="309.60" y="624.00" font-size="11.4" font-family="'Liberation Serif', serif" font-weight="bold" text-anchor="start" fill="#000" stroke="#000" stroke-width="0.2" textLength="28.10" lengthAdjust="spacingAndGlyphs" >+ TSA</text>
<text x="382.20" y="489.00" font-size="11.6" font-family="'Liberation Serif', serif" font-weight="bold" text-anchor="middle" fill="#000" stroke="#000" stroke-width="0.2" textLength="34.80" lengthAdjust="spacingAndGlyphs" >MCF-7</text>
</svg>
</body></html>
